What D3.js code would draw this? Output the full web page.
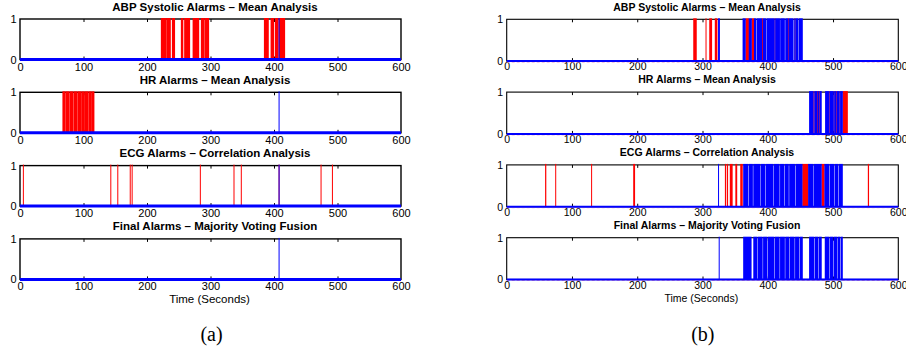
<!DOCTYPE html>
<html><head><meta charset="utf-8">
<script src="https://cdn.jsdelivr.net/npm/d3@7/dist/d3.min.js"></script>
<style>
html,body{margin:0;padding:0;background:#fff;}
svg{display:block;font-family:"Liberation Sans",Arial,Helvetica,sans-serif;}
</style></head>
<body>
<svg id="chart" width="906" height="353"></svg>
<script>
// ---------- data ----------
const xTicks = [0, 100, 200, 300, 400, 500, 600];
const yTicks = [0, 1];
const subplotTitles = [
  "ABP Systolic Alarms \u2013 Mean Analysis",
  "HR Alarms \u2013 Mean Analysis",
  "ECG Alarms \u2013 Correlation Analysis",
  "Final Alarms \u2013 Majority Voting Fusion"
];
const xAxisLabel = "Time (Seconds)";
const panelLabels = ["(a)", "(b)"];

// alarm intervals [start, end] in seconds (start==end: single alarm)
// panel (a)
const aAbpRed   = [[222,230],[230.5,237.3],[239.4,244],[253.5,257],[258.7,267.7],[272,282],[285,290.5],[291,297.6],[384.3,391.6],[394.8,400],[401.6,406.8],[407.4,417.3]];
const aAbpBlue  = [[408,408]];
const aHrRed    = [[67,71],[71.5,78],[78.5,84],[84.5,90],[90.5,96],[96.5,102],[102.5,108],[108.5,113],[113.5,117]];
const aHrBlue   = [[408,408]];
const aEcgRed   = [[5.3,5.3],[143,143],[154,154],[173,174],[176,177],[284,284],[337,337],[348.5,348.5],[408,408],[473.5,474],[492,492]];
const aEcgBlue  = [[408,408]];
const aFinalRed = [];
const aFinalBlue= [[408,408]];
// panel (b)
const bAbpRed   = [[286,291],[305.4,305.4],[310.5,314.5],[319,322.7],[366,371],[375.4,379],[391,392.5],[410.5,411.5],[431,432],[441.2,442.3]];
const bAbpBlue  = [[324,326.5],[361.6,366],[371,375.4],[379,382.5],[383.5,391],[392.5,398],[399,410.5],[411.5,418.5],[419.2,426],[427,431],[432,438.5],[439.5,441.2],[442.3,447],[448,453.5]];
const bHrRed    = [[470,471.5],[475.5,476.5],[479,480],[494.5,495.5],[501,502],[505,506],[510,511],[514.8,522.5]];
const bHrBlue   = [[463.5,470],[471.5,475.5],[476.5,479],[480,482.5],[488,494.5],[495.5,501],[502,505],[506,510],[511,514.8]];
const bEcgRed   = [[59,60.5],[74.5,75.5],[129.5,130.5],[194,196.5],[334.5,336],[337.5,339],[342,346],[350.5,353],[358,361.5],[453,462],[482.5,487],[553.5,555]];
const bEcgBlue  = [[324,325],[362.5,370],[371,377],[378,388],[389,396],[397,408],[409,418],[419,425],[426,432],[433,442],[443,453],[462,470],[471,482.5],[487,494],[495,502],[503,508],[509,514.8]];
const bFinalRed = [];
const bFinalBlue= [[325,326],[362.5,375],[378,384],[385,392],[393,399],[400,410],[411,418],[419,426],[427,433],[434,441],[442,448],[449,453.5],[463.5,471],[472,477],[478,482.5],[487.5,494],[495,500],[501,506],[507,511],[512,514.8]];

const panelSeries = [
  [[aAbpRed,aAbpBlue],[aHrRed,aHrBlue],[aEcgRed,aEcgBlue],[aFinalRed,aFinalBlue]],
  [[bAbpRed,bAbpBlue],[bHrRed,bHrBlue],[bEcgRed,bEcgBlue],[bFinalRed,bFinalBlue]]
];

// ---------- layout ----------
const layouts = [
  {left:20, right:401, top0:19, step:73.3, h:40.5, fs:11, tfs:11.5, tickPad:3.2, titleOff:8.5, titleDx:4.5,
   boxW:1.4, baseW:3, timeX:209.5, timeY:302.6, timeFs:11.5, labX:211.5, labY:340.5, redBase:false},
  {left:506.7, right:898.3, top0:19.3, step:72.8, h:41.8, fs:10.5, tfs:10.5, tickPad:1.6, titleOff:8.8, titleDx:4.5,
   boxW:1.1, baseW:2, timeX:701.3, timeY:301.5, timeFs:10.5, labX:702.8, labY:340.5, redBase:true}
];

const svg = d3.select("#chart");
const RED = "#ff0000", BLUE = "#0000ff";
const PAD = 0.12; // slight overlap so adjacent pulses read as light stripes

layouts.forEach((L, pi) => {
  const g = svg.append("g");
  const x = d3.scaleLinear().domain([0, 600]).range([L.left, L.right]);
  panelSeries[pi].forEach((series, si) => {
    const top = L.top0 + si * L.step, bottom = top + L.h;
    const y = d3.scaleLinear().domain([0, 1]).range([bottom, top]);
    const sg = g.append("g");

    sg.append("rect").attr("x", L.left).attr("y", top)
      .attr("width", L.right - L.left).attr("height", L.h)
      .attr("fill", "none").attr("stroke", "#000").attr("stroke-width", L.boxW);

    const ax = sg.append("g").attr("transform", `translate(0,${bottom})`)
      .call(d3.axisBottom(x).tickValues(xTicks).tickSize(-3).tickPadding(L.tickPad).tickFormat(d3.format("d")));
    const axT = sg.append("g").attr("transform", `translate(0,${top})`)
      .call(d3.axisTop(x).tickValues(xTicks).tickSize(-3).tickFormat(""));
    const ay = sg.append("g").attr("transform", `translate(${L.left},0)`)
      .call(d3.axisLeft(y).tickValues(yTicks).tickSize(0).tickPadding(3.5).tickFormat(d3.format("d")));
    [ax, axT, ay].forEach(a => {
      a.select(".domain").remove();
      a.selectAll("line").attr("stroke", "#000").attr("stroke-width", 1);
      a.selectAll("text").attr("font-size", L.fs).attr("fill", "#000")
        .attr("font-family", "Liberation Sans, Arial, sans-serif");
    });
    ax.selectAll(".tick").filter(d => d === 0 || d === 600).select("line").remove();
    axT.selectAll(".tick").filter(d => d === 0 || d === 600).select("line").remove();

    sg.append("text").attr("x", (L.left + L.right) / 2 + L.titleDx).attr("y", top - L.titleOff)
      .attr("text-anchor", "middle").attr("font-weight", "bold").attr("font-size", L.tfs)
      .text(subplotTitles[si]);

    const [red, blue] = series;
    const drawIntervals = (data, color) => {
      sg.append("g").selectAll("rect").data(data).join("rect")
        .attr("x", d => x(d[0]) - (d[1] === d[0] ? 0.5 : PAD))
        .attr("width", d => d[1] === d[0] ? 1 : Math.max(1, x(d[1]) - x(d[0]) + 2 * PAD))
        .attr("y", y(1) - 1)
        .attr("height", y(0) - y(1) + 1)
        .attr("fill", color);
    };
    drawIntervals(red, RED);
    if (L.redBase) {
      sg.append("line").attr("x1", x(0)).attr("x2", x(600))
        .attr("y1", y(0) + 1).attr("y2", y(0) + 1)
        .attr("stroke", "#f0a0c8").attr("stroke-width", 1).attr("stroke-dasharray", "3,2");
    }
    drawIntervals(blue, BLUE);
    sg.append("line").attr("x1", x(0)).attr("x2", x(600))
      .attr("y1", y(0)).attr("y2", y(0))
      .attr("stroke", BLUE).attr("stroke-width", L.baseW);
  });

  g.append("text").attr("x", L.timeX).attr("y", L.timeY).attr("text-anchor", "middle")
    .attr("font-size", L.timeFs).text(xAxisLabel);
  g.append("text").attr("x", L.labX).attr("y", L.labY).attr("text-anchor", "middle")
    .attr("font-family", "Liberation Serif, Times New Roman, serif").attr("font-size", 20)
    .text(panelLabels[pi]);
});
</script>
</body></html>
